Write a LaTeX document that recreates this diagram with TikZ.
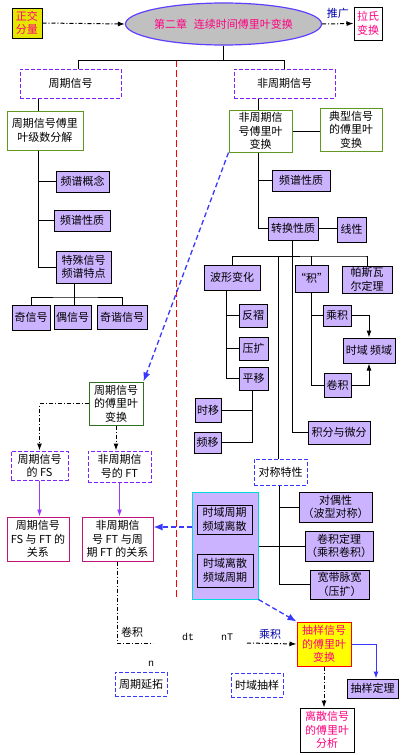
\documentclass[tikz,border=0pt]{standalone}
\usepackage{fontspec}
\newfontfamily\cjk{Noto Sans CJK SC}
\newfontfamily\monof{Liberation Mono}
\usetikzlibrary{arrows.meta,shapes.geometric}
\definecolor{vio}{RGB}{204,179,255}
\definecolor{grn}{RGB}{96,152,32}
\definecolor{dgrn}{RGB}{48,112,32}
\definecolor{dvio}{RGB}{128,32,255}
\definecolor{mag}{RGB}{255,0,128}
\definecolor{mbd}{RGB}{192,20,120}
\definecolor{elfill}{RGB}{192,192,192}
\definecolor{elbd}{RGB}{96,64,255}
\definecolor{bl}{RGB}{56,56,255}
\definecolor{cyb}{RGB}{0,220,220}
\definecolor{yla}{RGB}{230,230,0}
\definecolor{ylb}{RGB}{255,255,0}
\definecolor{navy}{RGB}{0,0,170}
\definecolor{parr}{RGB}{150,60,255}
\newcommand\myfont{\cjk\fontsize{11}{13.5}\selectfont}
\newcommand\bx[7]{\node[#2,minimum width={(#5)-(#3)},minimum height={(#6)-(#4)}] (#1) at ({((#3)+(#5))/2},{((#4)+(#6))/2}) {#7};}
\begin{document}
\begin{tikzpicture}[x=1pt,y=-1pt,
  base/.style={draw,line width=1pt,inner sep=0pt,align=center,font=\myfont},
  pbox/.style={base,fill=vio},
  gbox/.style={base,draw=grn,fill=white},
  wbox/.style={base,fill=white},
  vdash/.style={base,draw=dvio,dash pattern=on 4pt off 2pt,fill=white},
  bdbox/.style={base,draw=bl,dash pattern=on 4pt off 2pt,fill=white},
  mbox/.style={base,draw=mbd,fill=white},
  ln/.style={line width=1pt},
  tip/.style={-{Latex[length=7pt,width=5pt]}},
  dd/.style={line width=1pt,dash pattern=on 4pt off 2pt on 1pt off 2pt,tip},
  bdash/.style={line width=1.3pt,draw=bl,dash pattern=on 5pt off 3pt,-{Latex[length=9pt,width=7pt]}},
  parrow/.style={line width=1.2pt,draw=parr,tip}]
\fill[white] (0,0) rectangle (400,755);
\useasboundingbox (0,0) rectangle (400,755);
% red divider
\draw[red,line width=1pt,dash pattern=on 7pt off 3pt] (176,60) -- (176,597);
% top row
\bx{zq}{base,fill=yla,text=mag}{12}{8}{42}{38}{正交\\分量}
\node[ellipse,draw=elbd,fill=elfill,line width=1.2pt,minimum width=173,minimum height=42,inner sep=0pt,font=\myfont,text=mag] (ellip) at (223.5,24) {第二章\hspace{0.6em}连续时间傅里叶变换};
\bx{lp}{wbox,text=mag}{354}{7}{382}{40}{拉氏\\变换}
\draw[dd] (zq.east) -- (ellip.west);
\draw[dd] (ellip.east) -- node[above=1pt,font=\myfont,text=navy] (tg) {推广} (lp.west);
% level 1
\bx{per}{vdash}{20}{69}{121}{98}{周期信号}
\bx{aper}{vdash}{234}{69}{335}{98}{非周期信号}
\coordinate (b1L) at (78,60);
\coordinate (b1R) at (284,60);
\draw[ln] (ellip.south) -- (ellip.south |- b1L);
\draw[ln] (per.north -| b1L) -- (b1L) -- (b1R) -- (aper.north -| b1R);
% left branch
\bx{pfs}{gbox}{7}{111}{83}{150}{周期信号傅里\\叶级数分解}
\bx{pgn}{pbox}{56}{171}{109}{192}{频谱概念}
\bx{pxz1}{pbox}{54}{210}{110}{231}{频谱性质}
\bx{tsx}{pbox}{56}{251}{111}{283}{特殊信号\\频谱特点}
\bx{qi}{pbox}{12}{305}{50}{330}{奇信号}
\bx{ou}{pbox}{54}{305}{91}{329}{偶信号}
\bx{qx}{pbox}{97}{305}{147}{329}{奇谐信号}
\coordinate (xL) at (38,0);
\draw[ln] (per.south -| xL) -- (pfs.north -| xL);
\draw[ln] (pfs.south -| xL) |- (tsx.west);
\draw[ln] (pgn.west) -- (pgn.west -| xL);
\draw[ln] (pxz1.west) -- (pxz1.west -| xL);
\coordinate (xT) at (74,297);
\draw[ln] (tsx.south -| xT) -- (xT);
\draw[ln] (qi.north) |- (xT) -| (qx.north);
\draw[ln] (ou.north -| xT) -- (xT);
% right branch
\bx{aft}{gbox}{229}{110}{292}{152}{非周期信\\号傅里叶\\变换}
\bx{dx}{gbox}{320}{108}{382}{151}{典型信号\\的傅里叶\\变换}
\bx{pxz2}{pbox}{272}{170}{330}{191}{频谱性质}
\bx{zh}{pbox}{268}{217}{318}{240}{转换性质}
\bx{xx}{pbox}{337}{217}{366}{242}{线性}
\coordinate (xA) at (258.5,0);
\draw[ln] (aper.south -| xA) -- (aft.north -| xA);
\draw[ln] (aft.east) -- (aft.east -| dx.west);
\draw[ln] (aft.south -| xA) |- (zh.west);
\draw[ln] (pxz2.west) -- (pxz2.west -| xA);
\draw[ln] (zh.east) -- (zh.east -| xx.west);
% transform properties
\bx{bxh}{pbox}{204}{265}{260}{290}{波形变化}
\bx{ji}{pbox}{297}{265}{326}{292}{“积”}
\bx{psw}{pbox}{342}{266}{392}{293}{帕斯瓦\\尔定理}
\bx{fz}{pbox}{239}{304}{267}{327}{反褶}
\bx{yk}{pbox}{239}{337}{268}{360}{压扩}
\bx{py}{pbox}{239}{367}{268}{390}{平移}
\bx{sy}{pbox}{195}{398}{221}{422}{时移}
\bx{pyy}{pbox}{194}{432}{221}{453}{频移}
\bx{cj}{pbox}{323}{305}{351}{326}{乘积}
\bx{jj}{pbox}{324}{373}{351}{397}{卷积}
\bx{sp}{pbox}{343}{338}{395}{363}{时域 频域}
\bx{jf}{pbox}{308}{421}{370}{444}{积分与微分}
\coordinate (b2) at (292,256);
\coordinate (xB2) at (278,256);
\coordinate (xB4) at (366,256);
\draw[ln] (zh.south -| b2) |- (jf.west);
\draw[ln] (bxh.north) |- (xB4) -| (psw.north);
\draw[ln] (ji.north) -- (ji.north |- xB4);
\coordinate (xW) at (226,0);
\draw[ln] (bxh.south -| xW) |- (py.west);
\draw[ln] (fz.west) -- (fz.west -| xW);
\draw[ln] (yk.west) -- (yk.west -| xW);
\coordinate (xP) at (252,0);
\draw[ln] (py.south -| xP) |- (pyy.east);
\draw[ln] (sy.east) -- (sy.east -| xP);
\draw[ln] (ji.south) |- (jj.west);
\draw[ln] (cj.west) -- (cj.west -| ji.south);
\draw[ln,tip] (cj.east) -| (sp.north);
\draw[ln,tip] (jj.east) -| (sp.south);
% symmetry
\bx{dc}{bdbox}{254}{459}{307}{485}{对称特性}
\bx{dox}{pbox}{299}{492}{372}{522}{对偶性\\（波型对称）}
\bx{jd}{pbox}{305}{531}{373}{561}{卷积定理\\（乘积卷积）}
\bx{kd}{pbox}{310}{570}{369}{599}{宽带脉宽\\（压扩）}
\bx{big}{base,draw=cyb,fill=vio}{192}{492}{258}{599}{}
\bx{inA}{pbox}{197}{505}{252}{534}{时域周期\\频域离散}
\bx{inB}{pbox}{197}{554}{253}{587}{时域离散\\频域周期}
\coordinate (xD) at (279,0);
\draw[ln] (xB2) -- (dc.north -| xB2);
\draw[ln] (dc.south -| xD) |- (kd.west);
\draw[ln] (dox.west) -- (dox.west -| xD);
\draw[ln] (big.east |- jd.west) -- (jd.west);
% periodic FT
\bx{pft}{base,draw=dgrn,fill=white}{89}{382}{143}{425}{周期信号\\的傅里叶\\变换}
\bx{fs}{vdash}{11}{451}{68}{480}{周期信号\\的 FS}
\bx{ft}{vdash}{88}{451}{151}{482}{非周期信\\号的 FT}
\bx{ra}{mbox}{7}{517}{69}{561}{周期信号\\FS 与 FT 的\\关系}
\bx{rb}{mbox}{82}{517}{153}{561}{非周期信\\号 FT 与周\\期 FT 的关系}
\draw[bdash] (aft.south west) -- (pft.north east);
\draw[dd] (pft.west) -| (fs.north);
\draw[dd] (pft.south) -- (pft.south |- ft.north);
\draw[parrow] (fs.south) -- (fs.south |- ra.north);
\draw[parrow] (ft.south) -- (ft.south |- rb.north);
\coordinate (yA) at (0,527);
\draw[bdash] (big.west |- yA) -- (rb.east |- yA);
% sampling
\bx{cy}{base,draw=red,fill=ylb,text=mag}{297}{622}{351}{666}{抽样信号\\的傅里叶\\变换}
\bx{cydl}{pbox}{347}{679}{398}{698}{抽样定理}
\bx{ls}{wbox,text=mag}{300}{708}{354}{752}{离散信号\\的傅里叶\\分析}
\bx{yt}{bdbox}{115}{672}{167}{696}{周期延拓}
\bx{cysy}{bdbox}{231}{673}{283}{697}{时域抽样}
\draw[bdash] (big.south east) -- (cy.north west);
\coordinate (yB) at (0,643);
\coordinate (gapA) at (153,643);
\coordinate (gapB) at (247,643);
\draw[line width=1pt,dash pattern=on 4pt off 2pt on 1pt off 2pt] (rb.south) -- (rb.south |- yB) -- (gapA);
\draw[dd] (gapB) -- (cy.west);
\coordinate (xS) at (376,0);
\draw[ln,draw=bl,tip] (cy.east) -| (cydl.north -| xS);
\draw[dd] (cy.south) -- (cy.south |- ls.north);
% labels
\node[font=\myfont] (lj) at (132,632) {卷积};
\node[font=\monof\fontsize{10}{12}\selectfont] (ldt) at (188,637) {dt};
\node[font=\monof\fontsize{10}{12}\selectfont] (lnt) at (227,637) {nT};
\node[font=\myfont,text=navy] (lcj) at (270,634) {乘积};
\node[font=\monof\fontsize{10}{12}\selectfont] (ln) at (151,664) {n};
\end{tikzpicture}
\end{document}
